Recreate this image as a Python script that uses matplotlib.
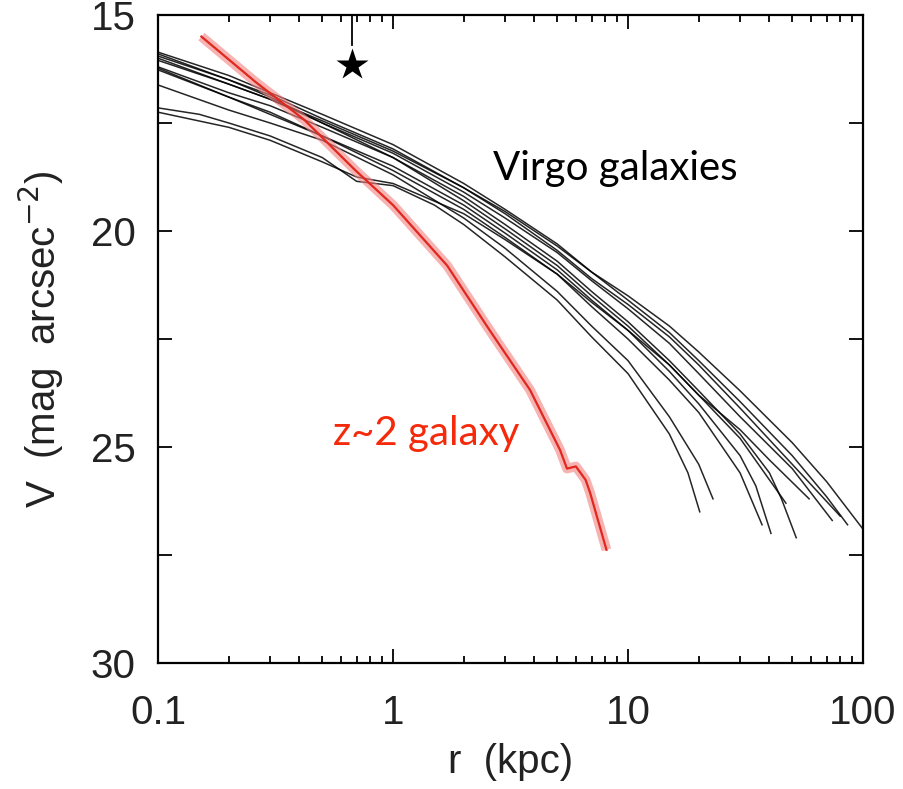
import numpy as np
import matplotlib.pyplot as plt
from matplotlib.ticker import FixedLocator, NullFormatter

# surface brightness profiles of the Virgo sample: radius (kpc), V (mag/arcsec^2)
virgo_r = [
    [0.1, 0.2, 0.3, 0.5, 1, 2, 3, 5, 7, 10, 15, 20, 30, 50, 70, 100],
    [0.1, 0.2, 0.3, 0.5, 1, 2, 3, 5, 7, 10, 15, 20, 30, 50, 70, 86],
    [0.1, 0.2, 0.3, 0.5, 1, 2, 3, 5, 7, 10, 15, 20, 30, 50, 74],
    [0.1, 0.2, 0.3, 0.5, 1, 2, 3, 5, 7, 10, 15, 20, 30, 40, 45, 52],
    [0.1, 0.2, 0.3, 0.5, 1, 2, 3, 5, 7, 10, 15, 20, 30, 35, 40.6],
    [0.1, 0.2, 0.3, 0.5, 1, 2, 3, 5, 7, 10, 15, 20, 30, 37.2],
    [0.1, 0.2, 0.3, 0.5, 1, 2, 3, 5, 7, 10, 15, 20, 23],
    [0.1, 0.15, 0.2, 0.3, 0.5, 0.7, 1, 1.5, 2, 3, 5, 7, 10, 15, 18, 20.2],
    [0.1, 0.2, 0.3, 0.5, 0.7, 1, 2, 3, 5, 7, 10, 15, 20, 30, 40, 59],
    [0.1, 0.2, 0.3, 0.5, 1, 2, 3, 5, 7, 10, 15, 20, 30, 50, 80],
    [0.1, 0.2, 0.3, 0.5, 1, 2, 3, 5, 7, 10, 15, 20, 30, 47],
]
virgo_v = [
    [15.9, 16.5, 16.85, 17.4, 18.1, 19.0, 19.55, 20.35, 20.95, 21.5, 22.2, 22.8, 23.7, 24.9, 25.8, 26.9],
    [15.86, 16.4, 16.8, 17.3, 18.0, 18.9, 19.5, 20.3, 20.95, 21.6, 22.35, 23.0, 23.95, 25.2, 26.15, 26.8],
    [16.0, 16.6, 16.95, 17.5, 18.2, 19.1, 19.7, 20.5, 21.15, 21.8, 22.6, 23.3, 24.3, 25.5, 26.7],
    [16.2, 16.8, 17.1, 17.6, 18.3, 19.2, 19.85, 20.7, 21.4, 22.1, 23.0, 23.7, 24.7, 25.6, 26.2, 27.1],
    [16.23, 16.9, 17.25, 17.8, 18.5, 19.4, 20.05, 20.9, 21.6, 22.3, 23.25, 24.0, 25.2, 25.9, 27.0],
    [16.27, 16.9, 17.3, 17.8, 18.6, 19.5, 20.15, 21.0, 21.75, 22.5, 23.45, 24.2, 25.6, 26.8],
    [16.62, 17.2, 17.5, 17.9, 18.7, 19.7, 20.4, 21.4, 22.2, 23.0, 24.3, 25.4, 26.2],
    [17.15, 17.3, 17.5, 17.8, 18.3, 18.85, 18.95, 19.4, 19.85, 20.6, 21.6, 22.45, 23.3, 24.7, 25.6, 26.5],
    [17.25, 17.6, 17.9, 18.4, 18.75, 18.9, 19.6, 20.2, 21.0, 21.65, 22.3, 23.1, 23.8, 24.6, 25.3, 26.2],
    [16.05, 16.6, 16.95, 17.45, 18.15, 19.0, 19.6, 20.45, 21.1, 21.7, 22.45, 23.1, 24.1, 25.4, 26.6],
    [15.95, 16.5, 16.9, 17.5, 18.3, 19.3, 19.95, 20.8, 21.5, 22.2, 23.1, 23.8, 24.8, 26.3],
]

# z~2 galaxy profile
z2_r = [0.153, 0.26, 0.42, 0.69, 1.0, 1.7, 2.58, 3.83, 5.14, 5.5, 6.0, 6.6, 6.9, 8.1]
z2_v = [15.5, 16.55, 17.43, 18.59, 19.4, 20.8, 22.3, 23.68, 25.07, 25.5, 25.45, 25.76, 26.06, 27.38]

star_r = 0.67
star_v = 16.16

x_major = [0.1, 1, 10, 100]
x_labels = ['0.1', '1', '10', '100']
x_minor = [m * d for d in (0.1, 1, 10) for m in range(2, 10)]
y_major = [15, 20, 25, 30]
y_minor = [17.5, 22.5, 27.5]

plt.rcParams.update({
    'font.family': ['Liberation Sans', 'DejaVu Sans'],
    'font.size': 29,
    'text.color': '#222222',
    'axes.labelcolor': '#222222',
    'axes.linewidth': 1.6,
    'xtick.color': 'black',
    'ytick.color': 'black',
    'xtick.labelcolor': '#222222',
    'ytick.labelcolor': '#222222',
    'xtick.labelsize': 29,
    'ytick.labelsize': 29,
    'xtick.direction': 'in',
    'ytick.direction': 'in',
    'xtick.top': True,
    'ytick.right': True,
    'xtick.major.size': 10,
    'xtick.minor.size': 5,
    'ytick.major.size': 10,
    'ytick.minor.size': 10,
    'xtick.major.width': 1.3,
    'xtick.minor.width': 1.3,
    'ytick.major.width': 1.3,
    'ytick.minor.width': 1.3,
    'xtick.major.pad': 22,
    'ytick.major.pad': 16,
})

fig = plt.figure(figsize=(9.04, 7.89), dpi=100)
ax = fig.add_axes([0.1748, 0.1597, 0.7798, 0.8213])

for r, v in zip(virgo_r, virgo_v):
    ax.plot(r, v, color='black', lw=1.1, alpha=0.85, solid_joinstyle='round')

ax.plot(z2_r, z2_v, color='#f28080', lw=7, alpha=0.6, solid_capstyle='butt')
ax.plot(z2_r, z2_v, color='#e0281e', lw=1.6)

ax.plot([star_r, star_r], [15, 15.7], color='black', lw=1.3)
ax.plot(star_r, star_v, marker='*', color='black', markersize=24, mec='none')

ax.set_xscale('log')
ax.set_xlim(0.1, 100)
ax.set_ylim(30, 15)

ax.set_xticks(x_major)
ax.set_xticklabels(x_labels)
ax.set_xticks(x_minor, minor=True)
ax.xaxis.set_minor_formatter(NullFormatter())
ax.set_yticks(y_major)
ax.yaxis.set_minor_locator(FixedLocator(y_minor))

ax.set_xlabel('r  (kpc)', labelpad=8)
ax.set_ylabel('V  (mag  arcsec$^{-2}$)', labelpad=18)

ax.text(2.66, 18.82, 'Virgo galaxies', fontfamily='Lato', fontsize=29,
        color='black', ha='left', va='baseline')
ax.text(0.556, 24.95, 'z~2 galaxy', fontfamily='Lato', fontsize=29,
        color='#f52a0a', ha='left', va='baseline')

fig.savefig('out.png', dpi=100)
